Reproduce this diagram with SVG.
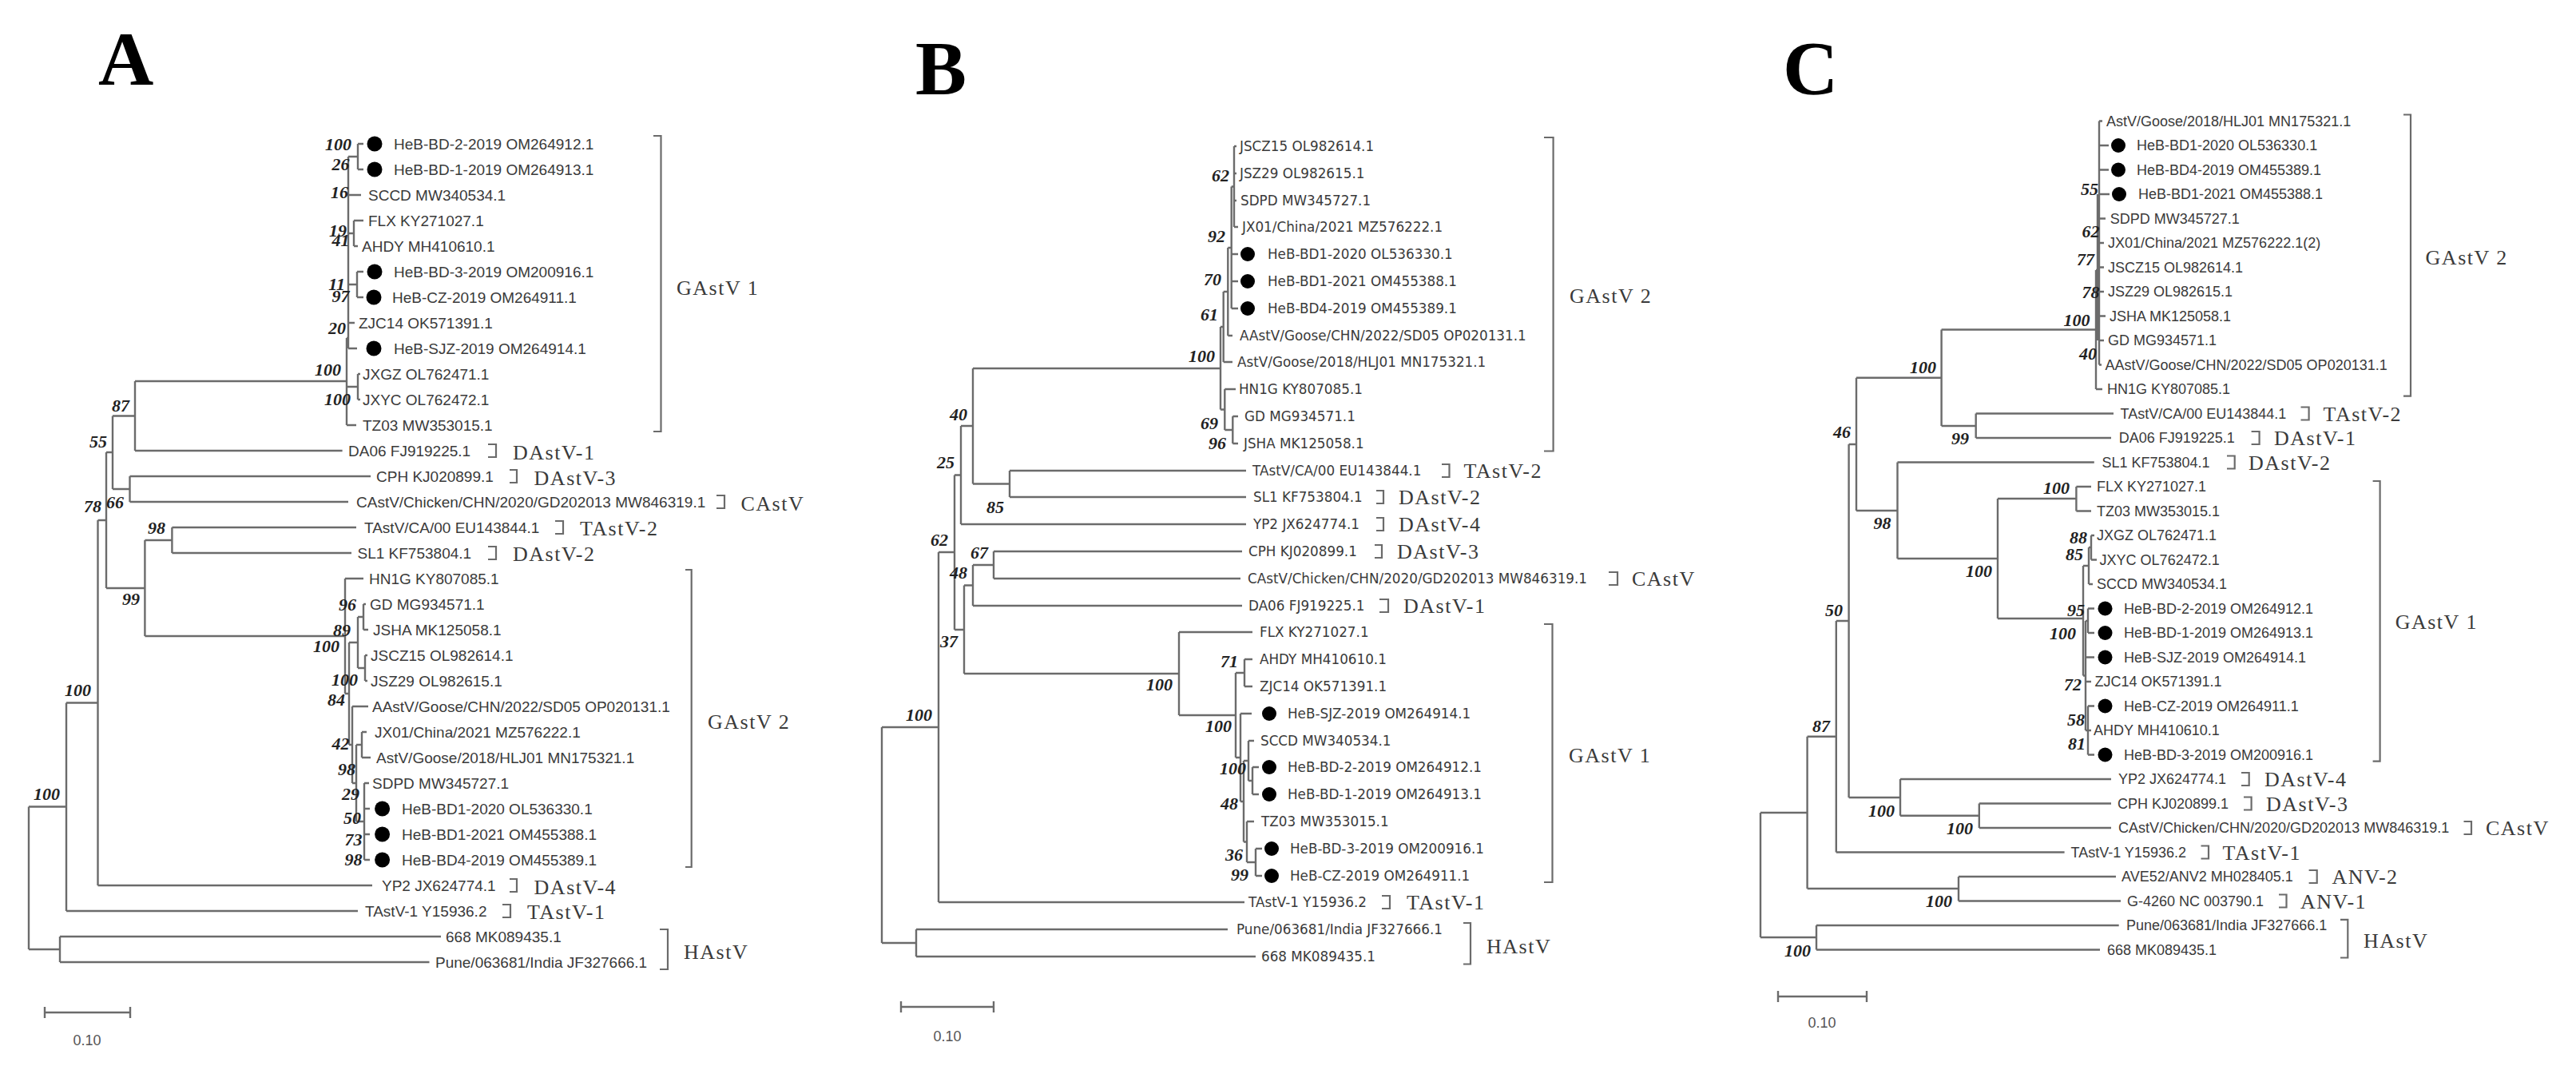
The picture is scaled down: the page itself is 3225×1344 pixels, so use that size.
<svg xmlns="http://www.w3.org/2000/svg" width="3225" height="1344" viewBox="0 0 3225 1344">
<style>
.e{fill:none;stroke:#6b6b6b;stroke-width:2.4}
.br{fill:none;stroke:#6b6b6b;stroke-width:2.2}
.la{font-family:"Liberation Sans",Arial,sans-serif;font-size:19px;fill:#3a3a3a}
.lb{font-family:"DejaVu Sans",Verdana,sans-serif;font-size:16.8px;fill:#3a3a3a}
.lc{font-family:"Liberation Sans",Arial,sans-serif;font-size:18px;fill:#3a3a3a}
.bs{font-family:"Liberation Serif","Times New Roman",serif;font-size:22px;font-weight:bold;font-style:italic;fill:#222;text-anchor:end}
.cl{font-family:"Liberation Serif","Times New Roman",serif;font-size:26px;letter-spacing:1.5px;fill:#3a3a3a}
.pl{font-family:"Liberation Serif","Times New Roman",serif;font-size:96px;font-weight:bold;fill:#000}
.sc{font-family:"Liberation Sans",Arial,sans-serif;font-size:18px;fill:#555;text-anchor:middle}
.d{fill:#000}
</style>
<rect width="3225" height="1344" fill="#fff"/>

<!-- ================= PANEL A ================= -->
<g id="panelA">
<text class="pl" x="123" y="106">A</text>
<g id="A-edges">
<path class="e" d="M36,1009.5V1188M36,1009.5H83M36,1188H75
M75,1172V1204M75,1172H552M75,1204H537.5
M83,879.5V1140M83,879.5H122.5M83,1140H448
M122.5,651V1108M122.5,651H133M122.5,1108H466
M133,566V736M133,566H141M133,736H181.4
M141,520.5V612M141,520.5H169M141,612H162.5
M169,477V564M169,477H434M169,564H428.6
M162.5,596V628M162.5,596H464M162.5,628H436
M181.4,676V796M181.4,676H215.4M181.4,796H432
M215.4,660V692M215.4,660H446M215.4,692H440
M434,423V532M434,423H436M434,484H448M434,532H446
M448,468V500M448,468H451M448,500H451
M436,196V436M436,196H448M448,180V212M448,180H455M448,212H455
M436,244H452
M436,292H443M443,276V308M443,276H455M443,308H448
M436,356H447M447,340V372M447,340H455M447,372H455
M436,404H444M436,436H447
M432,724V868M432,724H455M432,868H437
M437,804V932M437,804H448M437,932H441
M448,772V836M448,772H455M448,836H457
M455,756V788M455,756H458M455,788H461
M457,820V852M457,820H460M457,852H460
M441,884V980M441,884H461M441,980H446
M446,932V1028M446,932H453M446,1028H456
M453,916V948M453,916H459M453,948H464
M456,980V1076M456,980H462M456,1012H463M456,1044H463M456,1076H463"/>
</g>
<g id="A-leaves">
<g id="A-t0"><circle class="d" cx="469" cy="180" r="9.5"/><text class="la" x="493" y="186.7">HeB-BD-2-2019 OM264912.1</text></g>
<g id="A-t1"><circle class="d" cx="469" cy="212" r="9.5"/><text class="la" x="493" y="218.7">HeB-BD-1-2019 OM264913.1</text></g>
<g id="A-t2"><text class="la" x="461" y="250.7">SCCD MW340534.1</text></g>
<g id="A-t3"><text class="la" x="461" y="282.7">FLX KY271027.1</text></g>
<g id="A-t4"><text class="la" x="453" y="314.7">AHDY MH410610.1</text></g>
<g id="A-t5"><circle class="d" cx="469" cy="340" r="9.5"/><text class="la" x="493" y="346.7">HeB-BD-3-2019 OM200916.1</text></g>
<g id="A-t6"><circle class="d" cx="468" cy="372" r="9.5"/><text class="la" x="491" y="378.7">HeB-CZ-2019 OM264911.1</text></g>
<g id="A-t7"><text class="la" x="449" y="410.7">ZJC14 OK571391.1</text></g>
<g id="A-t8"><circle class="d" cx="468" cy="436" r="9.5"/><text class="la" x="493" y="442.7">HeB-SJZ-2019 OM264914.1</text></g>
<g id="A-t9"><text class="la" x="454" y="474.7">JXGZ OL762471.1</text></g>
<g id="A-t10"><text class="la" x="454" y="506.7">JXYC OL762472.1</text></g>
<g id="A-t11"><text class="la" x="454" y="538.7">TZ03 MW353015.1</text></g>
<g id="A-t12"><text class="la" x="436" y="570.7">DA06 FJ919225.1</text></g>
<g id="A-t13"><text class="la" x="471" y="602.7">CPH KJ020899.1</text></g>
<g id="A-t14"><text class="la" x="446" y="634.7">CAstV/Chicken/CHN/2020/GD202013 MW846319.1</text></g>
<g id="A-t15"><text class="la" x="456" y="666.7">TAstV/CA/00 EU143844.1</text></g>
<g id="A-t16"><text class="la" x="447.5" y="698.7">SL1 KF753804.1</text></g>
<g id="A-t17"><text class="la" x="462" y="730.7">HN1G KY807085.1</text></g>
<g id="A-t18"><text class="la" x="463" y="762.7">GD MG934571.1</text></g>
<g id="A-t19"><text class="la" x="467" y="794.7">JSHA MK125058.1</text></g>
<g id="A-t20"><text class="la" x="464" y="826.7">JSCZ15 OL982614.1</text></g>
<g id="A-t21"><text class="la" x="464" y="858.7">JSZ29 OL982615.1</text></g>
<g id="A-t22"><text class="la" x="466" y="890.7">AAstV/Goose/CHN/2022/SD05 OP020131.1</text></g>
<g id="A-t23"><text class="la" x="469" y="922.7">JX01/China/2021 MZ576222.1</text></g>
<g id="A-t24"><text class="la" x="471" y="954.7">AstV/Goose/2018/HLJ01 MN175321.1</text></g>
<g id="A-t25"><text class="la" x="466" y="986.7">SDPD MW345727.1</text></g>
<g id="A-t26"><circle class="d" cx="478.6" cy="1012" r="9.5"/><text class="la" x="503" y="1018.7">HeB-BD1-2020 OL536330.1</text></g>
<g id="A-t27"><circle class="d" cx="478.6" cy="1044" r="9.5"/><text class="la" x="503" y="1050.7">HeB-BD1-2021 OM455388.1</text></g>
<g id="A-t28"><circle class="d" cx="478.6" cy="1076" r="9.5"/><text class="la" x="503" y="1082.7">HeB-BD4-2019 OM455389.1</text></g>
<g id="A-t29"><text class="la" x="478" y="1114.7">YP2 JX624774.1</text></g>
<g id="A-t30"><text class="la" x="457" y="1146.7">TAstV-1 Y15936.2</text></g>
<g id="A-t31"><text class="la" x="558" y="1178.7">668 MK089435.1</text></g>
<g id="A-t32"><text class="la" x="545" y="1210.7">Pune/063681/India JF327666.1</text></g>
</g>
<g id="A-support">
<text class="bs" x="440" y="187.5">100</text>
<text class="bs" x="437.5" y="212.5">26</text>
<text class="bs" x="436" y="247.5">16</text>
<text class="bs" x="434" y="295.5">19</text>
<text class="bs" x="437.5" y="307.5">41</text>
<text class="bs" x="432" y="362.5">11</text>
<text class="bs" x="437.5" y="377.5">97</text>
<text class="bs" x="433" y="417.5">20</text>
<text class="bs" x="427" y="469.5">100</text>
<text class="bs" x="439" y="506.5">100</text>
<text class="bs" x="162" y="514.5">87</text>
<text class="bs" x="134" y="559.5">55</text>
<text class="bs" x="127" y="640.5">78</text>
<text class="bs" x="155" y="635.5">66</text>
<text class="bs" x="207" y="667.5">98</text>
<text class="bs" x="175" y="756.5">99</text>
<text class="bs" x="446" y="763.5">96</text>
<text class="bs" x="439" y="795.5">89</text>
<text class="bs" x="425" y="815.5">100</text>
<text class="bs" x="448" y="857.5">100</text>
<text class="bs" x="432" y="882.5">84</text>
<text class="bs" x="114" y="870.5">100</text>
<text class="bs" x="437.5" y="937.5">42</text>
<text class="bs" x="445" y="969.5">98</text>
<text class="bs" x="450" y="1000.5">29</text>
<text class="bs" x="452" y="1030.5">50</text>
<text class="bs" x="453.6" y="1057.5">73</text>
<text class="bs" x="453.6" y="1082.5">98</text>
<text class="bs" x="75" y="1000.5">100</text>
</g>
<g id="A-clades">
<path class="br" d="M818,170H827.5V540H818M611,556H621V572H611M638,588H647V604H638M897,620H907V636H897M695,652H705V668H695M611,684H621V700H611M858,713H865.7V1085H858M638,1100H647V1116H638M629,1132H639V1148H629M826,1163H836V1213H826"/>
<text class="cl" x="847" y="369">GAstV 1</text>
<text class="cl" x="642" y="575">DAstV-1</text>
<text class="cl" x="668.6" y="607">DAstV-3</text>
<text class="cl" x="927.5" y="639">CAstV</text>
<text class="cl" x="726" y="670">TAstV-2</text>
<text class="cl" x="642" y="702">DAstV-2</text>
<text class="cl" x="886" y="912">GAstV 2</text>
<text class="cl" x="668.6" y="1119">DAstV-4</text>
<text class="cl" x="660" y="1150">TAstV-1</text>
<text class="cl" x="856" y="1200">HAstV</text>
</g>
<g id="A-scale"><path class="e" d="M56,1267H163M56,1260V1274M163,1260V1274"/><text class="sc" x="109" y="1308">0.10</text></g>
</g>

<!-- ================= PANEL B ================= -->
<g id="panelB">
<text class="pl" x="1146" y="118">B</text>
<g id="B-edges">
<path class="e" d="M1104,910V1180M1104,910H1175M1104,1180H1147
M1147,1163V1197M1147,1163H1537M1147,1197H1572
M1175,691V1129M1175,691H1195M1175,1129H1558
M1195,594.5V788M1195,594.5H1203M1195,788H1207
M1203,533V656M1203,533H1218M1203,656H1560
M1218,461V605.5M1218,461H1528M1218,605.5H1264
M1264,589V622M1264,589H1560M1264,622H1560
M1528,409V512.5M1528,409H1531.7M1528,512.5H1533.3
M1531.7,365V453M1531.7,365H1537.3M1531.7,453H1543
M1537.3,310V420M1537.3,310H1541.7M1537.3,420H1543
M1541.7,233.5V386M1541.7,233.5H1545M1541.7,318H1550M1541.7,352H1550M1541.7,386H1550
M1545,183V284M1545,183H1548M1545,217H1548M1545,251H1548M1545,284H1550
M1533.3,487V538M1533.3,487H1547M1533.3,538H1543.3
M1543.3,521V555M1543.3,521H1550M1543.3,555H1550
M1207,732.5V843M1207,732.5H1218M1207,843H1476
M1218,707V758M1218,707H1244M1218,758H1555
M1244,690V724M1244,690H1555M1244,724H1553
M1476,791V895M1476,791H1568M1476,895H1547
M1547,842V948M1547,842H1558M1547,948H1553
M1558,825V859M1558,825H1568M1558,859H1568
M1553,893V1003M1553,893H1567M1553,1003H1557
M1557,952V1053.5M1557,952H1563M1557,1053.5H1561
M1563,927V977M1563,927H1570M1563,977H1568
M1568,960V994M1568,960H1576M1568,994H1576
M1561,1028V1079M1561,1028H1570M1561,1079H1572
M1572,1062V1096M1572,1062H1580M1572,1096H1580"/>
</g>
<g id="B-leaves">
<g id="B-t0"><text class="lb" x="1552" y="189">JSCZ15 OL982614.1</text></g>
<g id="B-t1"><text class="lb" x="1552" y="223">JSZ29 OL982615.1</text></g>
<g id="B-t2"><text class="lb" x="1553" y="257">SDPD MW345727.1</text></g>
<g id="B-t3"><text class="lb" x="1555" y="290">JX01/China/2021 MZ576222.1</text></g>
<g id="B-t4"><circle class="d" cx="1562" cy="318" r="9"/><text class="lb" x="1587" y="324">HeB-BD1-2020 OL536330.1</text></g>
<g id="B-t5"><circle class="d" cx="1562" cy="352" r="9"/><text class="lb" x="1587" y="358">HeB-BD1-2021 OM455388.1</text></g>
<g id="B-t6"><circle class="d" cx="1562" cy="386" r="9"/><text class="lb" x="1587" y="392">HeB-BD4-2019 OM455389.1</text></g>
<g id="B-t7"><text class="lb" x="1552" y="426">AAstV/Goose/CHN/2022/SD05 OP020131.1</text></g>
<g id="B-t8"><text class="lb" x="1549" y="459">AstV/Goose/2018/HLJ01 MN175321.1</text></g>
<g id="B-t9"><text class="lb" x="1551" y="493">HN1G KY807085.1</text></g>
<g id="B-t10"><text class="lb" x="1558" y="527">GD MG934571.1</text></g>
<g id="B-t11"><text class="lb" x="1557" y="561">JSHA MK125058.1</text></g>
<g id="B-t12"><text class="lb" x="1568" y="595">TAstV/CA/00 EU143844.1</text></g>
<g id="B-t13"><text class="lb" x="1569" y="628">SL1 KF753804.1</text></g>
<g id="B-t14"><text class="lb" x="1569" y="662">YP2 JX624774.1</text></g>
<g id="B-t15"><text class="lb" x="1563" y="696">CPH KJ020899.1</text></g>
<g id="B-t16"><text class="lb" x="1562" y="730">CAstV/Chicken/CHN/2020/GD202013 MW846319.1</text></g>
<g id="B-t17"><text class="lb" x="1563" y="764">DA06 FJ919225.1</text></g>
<g id="B-t18"><text class="lb" x="1577" y="797">FLX KY271027.1</text></g>
<g id="B-t19"><text class="lb" x="1577" y="831">AHDY MH410610.1</text></g>
<g id="B-t20"><text class="lb" x="1577" y="865">ZJC14 OK571391.1</text></g>
<g id="B-t21"><circle class="d" cx="1589" cy="893" r="9"/><text class="lb" x="1612" y="899">HeB-SJZ-2019 OM264914.1</text></g>
<g id="B-t22"><text class="lb" x="1578" y="933">SCCD MW340534.1</text></g>
<g id="B-t23"><circle class="d" cx="1589" cy="960" r="9"/><text class="lb" x="1612" y="966">HeB-BD-2-2019 OM264912.1</text></g>
<g id="B-t24"><circle class="d" cx="1589" cy="994" r="9"/><text class="lb" x="1612" y="1000">HeB-BD-1-2019 OM264913.1</text></g>
<g id="B-t25"><text class="lb" x="1579" y="1034">TZ03 MW353015.1</text></g>
<g id="B-t26"><circle class="d" cx="1592" cy="1062" r="9"/><text class="lb" x="1615" y="1068">HeB-BD-3-2019 OM200916.1</text></g>
<g id="B-t27"><circle class="d" cx="1592" cy="1096" r="9"/><text class="lb" x="1615" y="1102">HeB-CZ-2019 OM264911.1</text></g>
<g id="B-t28"><text class="lb" x="1563" y="1135">TAstV-1 Y15936.2</text></g>
<g id="B-t29"><text class="lb" x="1548" y="1169">Pune/063681/India JF327666.1</text></g>
<g id="B-t30"><text class="lb" x="1579" y="1203">668 MK089435.1</text></g>
</g>
<g id="B-support">
<text class="bs" x="1539" y="226.5">62</text>
<text class="bs" x="1534" y="302.5">92</text>
<text class="bs" x="1529" y="356.5">70</text>
<text class="bs" x="1525" y="400.5">61</text>
<text class="bs" x="1521" y="452.5">100</text>
<text class="bs" x="1525" y="536.5">69</text>
<text class="bs" x="1535" y="561.5">96</text>
<text class="bs" x="1211" y="525.5">40</text>
<text class="bs" x="1195" y="585.5">25</text>
<text class="bs" x="1257" y="641.5">85</text>
<text class="bs" x="1187" y="682.5">62</text>
<text class="bs" x="1237" y="698.5">67</text>
<text class="bs" x="1211" y="723.5">48</text>
<text class="bs" x="1199" y="809.5">37</text>
<text class="bs" x="1167" y="901.5">100</text>
<text class="bs" x="1468" y="863.5">100</text>
<text class="bs" x="1550" y="834.5">71</text>
<text class="bs" x="1542" y="915.5">100</text>
<text class="bs" x="1560" y="968.5">100</text>
<text class="bs" x="1550" y="1012.5">48</text>
<text class="bs" x="1556" y="1076.5">36</text>
<text class="bs" x="1563" y="1101.5">99</text>
</g>
<g id="B-clades">
<path class="br" d="M1933,172H1944.6V564.5H1933M1805,581H1814.5V597H1805M1723,614H1732V630H1723M1723,648H1732V664H1723M1721,682H1730V698H1721M2014,716H2025V732H2014M1727,750H1738V766H1727M1933,781H1943.5V1104H1933M1730,1121H1740V1137H1730M1832,1155H1841V1206.5H1832"/>
<text class="cl" x="1965" y="379">GAstV 2</text>
<text class="cl" x="1832.5" y="598">TAstV-2</text>
<text class="cl" x="1751" y="631">DAstV-2</text>
<text class="cl" x="1751" y="665">DAstV-4</text>
<text class="cl" x="1749" y="699">DAstV-3</text>
<text class="cl" x="2043" y="733">CAstV</text>
<text class="cl" x="1757" y="767">DAstV-1</text>
<text class="cl" x="1964" y="954">GAstV 1</text>
<text class="cl" x="1761" y="1138">TAstV-1</text>
<text class="cl" x="1861" y="1193">HAstV</text>
</g>
<g id="B-scale"><path class="e" d="M1128,1260H1244M1128,1253V1267M1244,1253V1267"/><text class="sc" x="1186" y="1303">0.10</text></g>
</g>

<!-- ================= PANEL C ================= -->
<g id="panelC">
<text class="pl" x="2232" y="118">C</text>
<g id="C-edges">
<path class="e" d="M2204,1017V1173M2204,1017H2262.6M2204,1173H2274
M2274,1158V1188.5M2274,1158H2652.7M2274,1188.5H2629
M2262.6,921.75V1112M2262.6,921.75H2298.8M2262.6,1112H2452
M2452,1097V1127.5M2452,1097H2649M2452,1127.5H2655
M2298.8,777V1066.5M2298.8,777H2314.6M2298.8,1066.5H2584.6
M2314.6,556V998M2314.6,556H2324M2314.6,998H2379
M2324,472.75V639M2324,472.75H2430.6M2324,639H2375.5
M2430.6,412.5V533M2430.6,412.5H2624M2430.6,533H2473.7
M2473.7,517.5V548M2473.7,517.5H2646M2473.7,548H2643
M2624,338V487M2624,338H2628M2624,487H2632
M2628,151.5V456.5M2628,151.5H2632M2628,182H2640M2628,212.5H2640M2628,243H2641M2628,273.5H2636M2628,304H2634M2628,334.5H2634M2628,365H2634M2628,395.5H2636M2628,426H2634M2628,456.5H2631
M2626,243V426
M2375.5,578.5V699M2375.5,578.5H2621.8M2375.5,699H2501
M2501,624V774M2501,624H2599.4M2501,774H2608
M2599.4,609V639.5M2599.4,609H2618M2599.4,639.5H2618
M2608,708V845.5M2608,708H2615M2608,845.5H2611
M2615,685V731M2615,685H2618M2615,731H2620
M2618,670V700.5M2618,670H2622M2618,700.5H2625
M2611,777V914M2611,777H2614M2611,822.5H2622M2611,853H2618M2611,914H2614
M2614,761.5V792M2614,761.5H2622M2614,792H2622
M2614,883.5V944.5M2614,883.5H2622M2614,914H2618M2614,944.5H2622
M2379,975V1020.75M2379,975H2643M2379,1020.75H2477.8
M2477.8,1005.5V1036M2477.8,1005.5H2643M2477.8,1036H2643"/>
</g>
<g id="C-leaves">
<g id="C-t0"><text class="lc" x="2637" y="157.8">AstV/Goose/2018/HLJ01 MN175321.1</text></g>
<g id="C-t1"><circle class="d" cx="2652" cy="182" r="9"/><text class="lc" x="2675" y="188.3">HeB-BD1-2020 OL536330.1</text></g>
<g id="C-t2"><circle class="d" cx="2652" cy="212.5" r="9"/><text class="lc" x="2675" y="218.8">HeB-BD4-2019 OM455389.1</text></g>
<g id="C-t3"><circle class="d" cx="2653" cy="243" r="9"/><text class="lc" x="2677" y="249.3">HeB-BD1-2021 OM455388.1</text></g>
<g id="C-t4"><text class="lc" x="2641.7" y="279.8">SDPD MW345727.1</text></g>
<g id="C-t5"><text class="lc" x="2639" y="310.3">JX01/China/2021 MZ576222.1(2)</text></g>
<g id="C-t6"><text class="lc" x="2639" y="340.8">JSCZ15 OL982614.1</text></g>
<g id="C-t7"><text class="lc" x="2639" y="371.3">JSZ29 OL982615.1</text></g>
<g id="C-t8"><text class="lc" x="2641" y="401.8">JSHA MK125058.1</text></g>
<g id="C-t9"><text class="lc" x="2639" y="432.3">GD MG934571.1</text></g>
<g id="C-t10"><text class="lc" x="2635.5" y="462.8">AAstV/Goose/CHN/2022/SD05 OP020131.1</text></g>
<g id="C-t11"><text class="lc" x="2638" y="493.3">HN1G KY807085.1</text></g>
<g id="C-t12"><text class="lc" x="2654.5" y="523.8">TAstV/CA/00 EU143844.1</text></g>
<g id="C-t13"><text class="lc" x="2652.7" y="554.3">DA06 FJ919225.1</text></g>
<g id="C-t14"><text class="lc" x="2631.4" y="584.8">SL1 KF753804.1</text></g>
<g id="C-t15"><text class="lc" x="2625" y="615.3">FLX KY271027.1</text></g>
<g id="C-t16"><text class="lc" x="2625" y="645.8">TZ03 MW353015.1</text></g>
<g id="C-t17"><text class="lc" x="2625" y="676.3">JXGZ OL762471.1</text></g>
<g id="C-t18"><text class="lc" x="2628.6" y="706.8">JXYC OL762472.1</text></g>
<g id="C-t19"><text class="lc" x="2625" y="737.3">SCCD MW340534.1</text></g>
<g id="C-t20"><circle class="d" cx="2635.5" cy="761.5" r="9"/><text class="lc" x="2659" y="767.8">HeB-BD-2-2019 OM264912.1</text></g>
<g id="C-t21"><circle class="d" cx="2635.5" cy="792" r="9"/><text class="lc" x="2659" y="798.3">HeB-BD-1-2019 OM264913.1</text></g>
<g id="C-t22"><circle class="d" cx="2635.5" cy="822.5" r="9"/><text class="lc" x="2659" y="828.8">HeB-SJZ-2019 OM264914.1</text></g>
<g id="C-t23"><text class="lc" x="2622.5" y="859.3">ZJC14 OK571391.1</text></g>
<g id="C-t24"><circle class="d" cx="2635.5" cy="883.5" r="9"/><text class="lc" x="2659" y="889.8">HeB-CZ-2019 OM264911.1</text></g>
<g id="C-t25"><text class="lc" x="2621" y="920.3">AHDY MH410610.1</text></g>
<g id="C-t26"><circle class="d" cx="2635.5" cy="944.5" r="9"/><text class="lc" x="2659" y="950.8">HeB-BD-3-2019 OM200916.1</text></g>
<g id="C-t27"><text class="lc" x="2652" y="981.3">YP2 JX624774.1</text></g>
<g id="C-t28"><text class="lc" x="2651" y="1011.8">CPH KJ020899.1</text></g>
<g id="C-t29"><text class="lc" x="2652" y="1042.3">CAstV/Chicken/CHN/2020/GD202013 MW846319.1</text></g>
<g id="C-t30"><text class="lc" x="2592.5" y="1072.8">TAstV-1 Y15936.2</text></g>
<g id="C-t31"><text class="lc" x="2656" y="1103.3">AVE52/ANV2 MH028405.1</text></g>
<g id="C-t32"><text class="lc" x="2663" y="1133.8">G-4260 NC 003790.1</text></g>
<g id="C-t33"><text class="lc" x="2662" y="1164.3">Pune/063681/India JF327666.1</text></g>
<g id="C-t34"><text class="lc" x="2638" y="1194.8">668 MK089435.1</text></g>
</g>
<g id="C-support">
<text class="bs" x="2627" y="243.5">55</text>
<text class="bs" x="2628.6" y="296.5">62</text>
<text class="bs" x="2622" y="331.5">77</text>
<text class="bs" x="2628.6" y="372.5">78</text>
<text class="bs" x="2616.6" y="407.5">100</text>
<text class="bs" x="2625" y="449.5">40</text>
<text class="bs" x="2424" y="466.5">100</text>
<text class="bs" x="2317" y="547.5">46</text>
<text class="bs" x="2465" y="555.5">99</text>
<text class="bs" x="2367.6" y="661.5">98</text>
<text class="bs" x="2591" y="617.5">100</text>
<text class="bs" x="2613" y="679.5">88</text>
<text class="bs" x="2608" y="701">85</text>
<text class="bs" x="2494" y="721.5">100</text>
<text class="bs" x="2307" y="770.5">50</text>
<text class="bs" x="2610" y="770.5">95</text>
<text class="bs" x="2599" y="799.5">100</text>
<text class="bs" x="2606" y="864">72</text>
<text class="bs" x="2610" y="907.5">58</text>
<text class="bs" x="2611" y="938">81</text>
<text class="bs" x="2291" y="915.5">87</text>
<text class="bs" x="2372" y="1021.5">100</text>
<text class="bs" x="2470" y="1043.5">100</text>
<text class="bs" x="2444" y="1134.5">100</text>
<text class="bs" x="2267" y="1196.5">100</text>
</g>
<g id="C-clades">
<path class="br" d="M3009,143.5H3018V495.6H3009M2880.5,509.5H2890.6V525.5H2880.5M2818.6,540H2828.6V556H2818.6M2788,570.5H2797.7V586.5H2788M2970.6,602H2979.6V952.7H2970.6M2806,967H2815.7V983H2806M2809,997.5H2818.6V1013.5H2809M3084.5,1028H3094V1044H3084.5M2755.5,1058.5H2765V1074.5H2755.5M2890.6,1089H2900.7V1105H2890.6M2853,1119.5H2862.5V1135.5H2853M2930,1150.8H2939.3V1198.5H2930"/>
<text class="cl" x="3036.6" y="331">GAstV 2</text>
<text class="cl" x="2908.6" y="526.5">TAstV-2</text>
<text class="cl" x="2847" y="557">DAstV-1</text>
<text class="cl" x="2815" y="587.5">DAstV-2</text>
<text class="cl" x="2998.7" y="787">GAstV 1</text>
<text class="cl" x="2835" y="984">DAstV-4</text>
<text class="cl" x="2837" y="1014.5">DAstV-3</text>
<text class="cl" x="3112" y="1045">CAstV</text>
<text class="cl" x="2782.5" y="1075.5">TAstV-1</text>
<text class="cl" x="2919.5" y="1106">ANV-2</text>
<text class="cl" x="2880" y="1136.5">ANV-1</text>
<text class="cl" x="2959" y="1185.5">HAstV</text>
</g>
<g id="C-scale"><path class="e" d="M2226,1247H2337M2226,1240V1254M2337,1240V1254"/><text class="sc" x="2281" y="1286">0.10</text></g>
</g>
</svg>
